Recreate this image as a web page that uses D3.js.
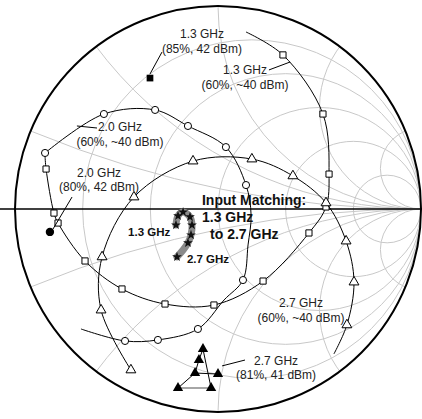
<!DOCTYPE html>
<html><head><meta charset="utf-8">
<script src="https://cdn.jsdelivr.net/npm/d3@7"></script>
<style>body{margin:0;background:#fff;}svg{display:block;}text{font-family:"Liberation Sans",Arial,sans-serif;}</style>
</head><body><svg id="c" width="422" height="419"></svg>
<script>
// Smith chart grid values
const rValues = [0.2, 0.5, 1, 2, 5];
const xValues = [0.2, 0.5, 1, 2, 5, -0.2, -0.5, -1, -2, -5];

// Reflection-coefficient data (re, im)
const squareRe = [0.138, 0.320, 0.517, 0.547, 0.532, 0.448, 0.222, -0.020, -0.261, -0.473, -0.655, -0.788, -0.808, -0.847, -0.852];
const squareIm = [0.872, 0.759, 0.468, 0.172, 0.010, -0.118, -0.355, -0.473, -0.468, -0.394, -0.256, -0.069, -0.020, 0.197, 0.261];
const squareMark = [0,1,1,1,1,1,1,1,1,1,1,1,1,1,0];

const circleRe = [-0.852, -0.562, -0.310, -0.148, 0.039, 0.138, 0.163, 0.148, 0.123, 0.030, -0.099, -0.296, -0.458, -0.675];
const circleIm = [0.276, 0.468, 0.488, 0.409, 0.305, 0.118, -0.030, -0.177, -0.350, -0.448, -0.591, -0.645, -0.650, -0.591];
const circleMark = [1,1,1,1,1,1,0,0,1,0,1,1,1,0];

const triRe = [-0.429, -0.576, -0.571, -0.414, -0.123, 0.167, 0.369, 0.532, 0.631, 0.670, 0.635, 0.571];
const triIm = [-0.793, -0.498, -0.236, 0.059, 0.236, 0.246, 0.163, 0.030, -0.158, -0.360, -0.571, -0.714];
const triMark = [1,1,1,1,1,1,1,1,1,1,1,0];

// Input matching trajectory (1.3 -> 2.7 GHz)
const inRe = [-0.207, -0.197, -0.172, -0.138, -0.128, -0.133, -0.148, -0.172, -0.202];
const inIm = [-0.079, -0.034, -0.015, -0.039, -0.079, -0.128, -0.167, -0.202, -0.236];
const inMark = [1,1,1,1,1,1,1,0,1];

// Optimum points
const optSquare = [-0.335, 0.645];
const optCircle = [-0.828, -0.113];
const optTriRe = [-0.074, -0.094, -0.113, -0.197, -0.034, 0.000];
const optTriIm = [-0.690, -0.744, -0.808, -0.882, -0.882, -0.813];

// Labels
const labelLines = [
  ["1.3 GHz", "(85%, 42 dBm)"],
  ["1.3 GHz", "(60%, ~40 dBm)"],
  ["2.0 GHz", "(60%, ~40 dBm)"],
  ["2.0 GHz", "(80%, 42 dBm)"],
  ["2.7 GHz", "(60%, ~40 dBm)"],
  ["2.7 GHz", "(81%, 41 dBm)"]
];
const inputTitle = ["Input Matching:", "1.3 GHz", "to 2.7 GHz"];
const inputEnds = ["1.3 GHz", "2.7 GHz"];

// ---- layout ----
const cx = 218, cy = 209, R = 203;
const sx = d3.scaleLinear().domain([-1, 1]).range([cx - R, cx + R]);
const sy = d3.scaleLinear().domain([-1, 1]).range([cy + R, cy - R]);
const k = R; // pixels per unit
const svg = d3.select("#c");

svg.append("clipPath").attr("id", "uc").append("circle")
  .attr("cx", sx(0)).attr("cy", sy(0)).attr("r", k);

const grid = svg.append("g").attr("clip-path", "url(#uc)")
  .attr("fill", "none").attr("stroke", "#c8c8c8").attr("stroke-width", 1);
grid.selectAll("circle.r").data(rValues).join("circle").attr("class", "r")
  .attr("cx", r => sx(r / (1 + r))).attr("cy", sy(0)).attr("r", r => k / (1 + r));
grid.selectAll("circle.x").data(xValues).join("circle").attr("class", "x")
  .attr("cx", sx(1)).attr("cy", x => sy(1 / x)).attr("r", x => k / Math.abs(x));

svg.append("line").attr("x1", 0).attr("x2", 422).attr("y1", sy(0)).attr("y2", sy(0))
  .attr("stroke", "#000").attr("stroke-width", 1.5);
svg.append("circle").attr("cx", sx(0)).attr("cy", sy(0)).attr("r", k)
  .attr("fill", "none").attr("stroke", "#000").attr("stroke-width", 2);

const line = d3.line().x(d => sx(d[0])).y(d => sy(d[1])).curve(d3.curveCatmullRom.alpha(0.5));
function pts(re, im) { return re.map((v, i) => [v, im[i]]); }

// input matching trajectory
const inPts = pts(inRe, inIm);
svg.append("path").attr("d", line(inPts)).attr("fill", "none")
  .attr("stroke", "#8a8a8a").attr("stroke-width", 7).attr("stroke-linecap", "round");
const star = d3.symbol().type(d3.symbolStar).size(30);
svg.selectAll("path.st").data(inPts.filter((d, i) => inMark[i])).join("path").attr("class", "st")
  .attr("d", star).attr("transform", d => `translate(${sx(d[0])},${sy(d[1])})`).attr("fill", "#111");

// contour curves
function series(re, im, mark, sym, size) {
  const p = pts(re, im);
  svg.append("path").attr("d", line(p)).attr("fill", "none").attr("stroke", "#000").attr("stroke-width", 1);
  svg.append("g").selectAll("path").data(p.filter((d, i) => mark[i])).join("path")
    .attr("d", d3.symbol().type(sym).size(size))
    .attr("transform", d => `translate(${sx(d[0])},${sy(d[1])})`)
    .attr("fill", "#fff").attr("stroke", "#000").attr("stroke-width", 1);
}
series(squareRe, squareIm, squareMark, d3.symbolSquare, 38);
series(circleRe, circleIm, circleMark, d3.symbolCircle, 40);
series(triRe, triIm, triMark, d3.symbolTriangle, 42);

// optimum markers
svg.append("path").attr("d", d3.symbol().type(d3.symbolSquare).size(45)())
  .attr("transform", `translate(${sx(optSquare[0])},${sy(optSquare[1])})`).attr("fill", "#000");
svg.append("path").attr("d", d3.symbol().type(d3.symbolCircle).size(55)())
  .attr("transform", `translate(${sx(optCircle[0])},${sy(optCircle[1])})`).attr("fill", "#000");
const ot = pts(optTriRe, optTriIm);
svg.append("path").attr("d", d3.line().x(d => sx(d[0])).y(d => sy(d[1]))([ot[3], ot[4]]))
  .attr("stroke", "#888").attr("stroke-width", 1.5).attr("fill", "none");
svg.append("path").attr("d", d3.line().x(d => sx(d[0])).y(d => sy(d[1]))([ot[3], ot[2], ot[1], ot[0], ot[4]]))
  .attr("stroke", "#000").attr("stroke-width", 1).attr("fill", "none");
svg.append("path").attr("d", d3.line().x(d => sx(d[0])).y(d => sy(d[1]))([ot[2], ot[5]]))
  .attr("stroke", "#000").attr("stroke-width", 1).attr("fill", "none");
svg.selectAll("path.ot").data(ot).join("path").attr("class", "ot")
  .attr("d", d3.symbol().type(d3.symbolTriangle).size(46))
  .attr("transform", d => `translate(${sx(d[0])},${sy(d[1])})`).attr("fill", "#000");

// leaders (re, im pairs)
const leaders = [
  [[-0.276, 0.773], [-0.335, 0.665]],
  [[0.251, 0.685], [0.355, 0.724]],
  [[-0.695, 0.409], [-0.596, 0.399]],
  [[-0.719, 0.059], [-0.813, -0.099]],
  [[0.133, -0.744], [0.020, -0.773]]
];
svg.selectAll("line.ld").data(leaders).join("line").attr("class", "ld")
  .attr("x1", d => sx(d[0][0])).attr("y1", d => sy(d[0][1]))
  .attr("x2", d => sx(d[1][0])).attr("y2", d => sy(d[1][1]))
  .attr("stroke", "#000").attr("stroke-width", 1);

// label positions (re, im of first line baseline center)
const labelPos = [[-0.079, 0.842], [0.133, 0.665], [-0.483, 0.384], [-0.586, 0.158], [0.409, -0.483], [0.286, -0.768]];
const lg = svg.append("g").attr("font-size", 12).attr("fill", "#222").attr("text-anchor", "middle");
labelLines.forEach((lines, i) => {
  const t = lg.append("text").attr("x", sx(labelPos[i][0])).attr("y", sy(labelPos[i][1]));
  lines.forEach((s, j) => t.append("tspan").attr("x", sx(labelPos[i][0])).attr("dy", j ? 14.5 : 0).text(s));
});

// input matching title
const titlePos = [[-0.079, 0.020], [-0.079, -0.064], [-0.039, -0.148]];
svg.append("g").attr("font-size", 14).attr("font-weight", "bold").attr("fill", "#111")
  .selectAll("text").data(inputTitle).join("text")
  .attr("x", (d, i) => sx(titlePos[i][0])).attr("y", (d, i) => sy(titlePos[i][1])).text(d => d);
const endPos = [[-0.443, -0.133], [-0.153, -0.266]];
svg.append("g").attr("font-size", 11.5).attr("font-weight", "bold").attr("fill", "#111")
  .selectAll("text").data(inputEnds).join("text")
  .attr("x", (d, i) => sx(endPos[i][0])).attr("y", (d, i) => sy(endPos[i][1])).text(d => d);
</script></body></html>
